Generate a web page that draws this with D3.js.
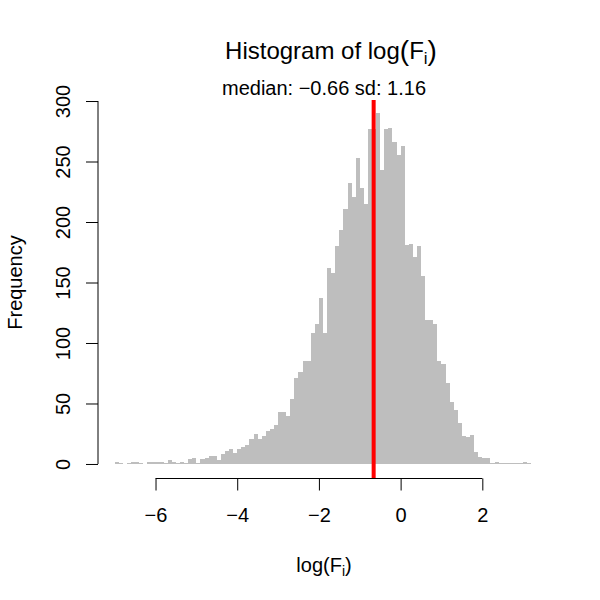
<!doctype html>
<html>
<head>
    <meta charset="UTF-8">
    <title>Histogram of log(F)</title>
    <script src="https://d3js.org/d3.v7.min.js"></script>
    <style>
        body { margin: 0; background: #fff; }
        text { font-family: "Liberation Sans", Arial, Helvetica, sans-serif; fill: #000; }
    </style>
</head>
<body>
    <script>
        // bin counts, bins of width 0.1 starting at -7.0
        var binStart = -7.0, binWidth = 0.1;
        var counts = [
            2, 1, 0, 1, 2, 2, 1, 0, 2, 2,          // -7.0 .. -6.1
            2, 2, 1, 3, 2, 1, 2, 1, 4, 5,          // -6.0 .. -5.1
            1, 4, 5, 7, 7, 3, 8, 11, 12, 9,        // -5.0 .. -4.1
            12, 14, 16, 21, 25, 21, 23, 27, 29, 32, // -4.0 .. -3.1
            43, 43, 40, 54, 71, 76, 85, 85, 108, 116, // -3.0 .. -2.1
            137, 108, 162, 158, 180, 193, 211, 232, 221, 253, // -2.0 .. -1.1
            228, 215, 277, 277, 290, 243, 277, 278, 266, 255, // -1.0 .. -0.1
            263, 181, 182, 171, 180, 155, 119, 119, 116, 85,  // 0.0 .. 0.9
            83, 67, 51, 45, 34, 23, 22, 24, 10, 6,   // 1.0 .. 1.9
            5, 5, 1, 2, 1, 1, 1, 1, 1, 1,           // 2.0 .. 2.9
            2, 1                                    // 3.0 .. 3.1
        ];
        var xTicks = [-6, -4, -2, 0, 2];
        var yTicks = [0, 50, 100, 150, 200, 250, 300];
        var median = -0.66, sd = 1.16;

        var w = 600, h = 600;
        var pLeft = 98, pRight = 548, pTop = 86.5, pBottom = 478.5;

        var bins = counts.map(function(d, i){
            return {x0: binStart + i*binWidth, x1: binStart + (i+1)*binWidth, n: d};
        });

        var xmin = binStart, xmax = binStart + counts.length*binWidth;
        var xpad = (xmax - xmin)*0.04, ypad = 300*0.04;
        var x = d3.scaleLinear().domain([xmin - xpad, xmax + xpad]).range([pLeft, pRight]);
        var y = d3.scaleLinear().domain([-ypad, 300 + ypad]).range([pBottom, pTop]);

        var minus = function(d){ return d < 0 ? "\u2212" + Math.abs(d) : "" + d; };

        var svg = d3.select("body").append("svg")
            .attr("width", w)
            .attr("height", h);

        //bars-----------------------
        svg.append("g")
            .attr("shape-rendering", "crispEdges")
            .selectAll("rect")
            .data(bins)
            .enter()
            .append("rect")
            .attr("x", function(d){ return Math.round(x(d.x0)); })
            .attr("y", function(d){ return y(d.n); })
            .attr("width", function(d){ return Math.round(x(d.x1)) - Math.round(x(d.x0)); })
            .attr("height", function(d){ return y(0) - y(d.n); })
            .attr("fill", "#bebebe");

        //median line-----------------------
        svg.append("line")
            .attr("x1", x(median)).attr("x2", x(median))
            .attr("y1", y(300) - 1).attr("y2", pBottom)
            .attr("stroke", "#ff0000")
            .attr("stroke-width", 4);

        //x axis-----------------------
        var xAxis = d3.axisBottom(x)
            .tickValues(xTicks)
            .tickSize(12)
            .tickFormat(minus);
        var gx = svg.append("g")
            .attr("transform", "translate(0," + pBottom + ")")
            .call(xAxis);
        gx.select(".domain").remove();
        gx.append("line")
            .attr("x1", x(xTicks[0])).attr("x2", x(xTicks[xTicks.length - 1]))
            .attr("stroke", "#000");
        gx.selectAll(".tick text")
            .attr("y", 522 - pBottom)
            .attr("dy", 0)
            .attr("font-size", 20)
            .style("font-family", "'Liberation Sans', Arial, sans-serif")
            .attr("fill", "#000");

        //y axis-----------------------
        var yAxis = d3.axisLeft(y)
            .tickValues(yTicks)
            .tickSize(12)
            .tickFormat(d3.format("d"));
        var gy = svg.append("g")
            .attr("transform", "translate(" + pLeft + ",0)")
            .call(yAxis);
        gy.select(".domain").remove();
        gy.append("line")
            .attr("y1", y(yTicks[0])).attr("y2", y(yTicks[yTicks.length - 1]))
            .attr("stroke", "#000");
        gy.selectAll(".tick text")
            .attr("font-size", 20)
            .attr("x", 0).attr("dy", 0)
            .attr("text-anchor", "middle")
            .attr("transform", "translate(-28,0) rotate(-90)")
            .style("font-family", "'Liberation Sans', Arial, sans-serif")
            .attr("fill", "#000");

        //labels-----------------------
        var mid = (pLeft + pRight)/2;

        var title = svg.append("text")
            .attr("x", mid + 8).attr("y", 59)
            .attr("text-anchor", "middle")
            .attr("font-size", 24);
        title.append("tspan").text("Histogram of log");
        title.append("tspan").attr("font-size", 28).attr("dy", 1).text("(");
        title.append("tspan").attr("dy", -1).text("F");
        title.append("tspan").attr("font-size", 17).attr("dy", 5).text("i");
        title.append("tspan").attr("font-size", 28).attr("dy", -4).text(")");

        svg.append("text")
            .attr("x", mid + 1).attr("y", 95)
            .attr("text-anchor", "middle")
            .attr("font-size", 20)
            .text("median: " + minus(median.toFixed(2)) + " sd: " + sd.toFixed(2));

        var xl = svg.append("text")
            .attr("x", mid + 1).attr("y", 572)
            .attr("text-anchor", "middle")
            .attr("font-size", 20);
        xl.append("tspan").text("log(F");
        xl.append("tspan").attr("font-size", 14).attr("dy", 4).text("i");
        xl.append("tspan").attr("dy", -4).text(")");

        svg.append("text")
            .attr("transform", "translate(22," + (pTop + pBottom)/2 + ") rotate(-90)")
            .attr("text-anchor", "middle")
            .attr("font-size", 20)
            .text("Frequency");
    </script>
</body>
</html>
